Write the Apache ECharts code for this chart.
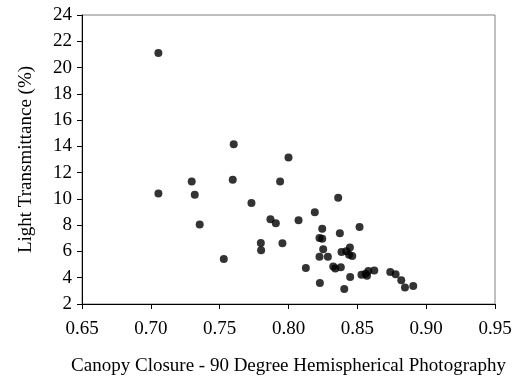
<!DOCTYPE html>
<html>
<head>
<meta charset="utf-8">
<script src="https://cdn.jsdelivr.net/npm/echarts@6/dist/echarts.min.js"></script>
<style>html,body{margin:0;padding:0;background:#fff;}#c{width:519px;height:381px;}</style>
</head>
<body>
<div id="c"></div>
<script>
var canopyClosure = [
  0.7055, 0.7055, 0.7297, 0.7319, 0.7355, 0.7530, 0.7602, 0.7595, 0.7731, 0.7799,
  0.7801, 0.7869, 0.7908, 0.7939, 0.7956, 0.8000, 0.8073, 0.8126, 0.8191, 0.8245,
  0.8225, 0.8245, 0.8252, 0.8225, 0.8286, 0.8361, 0.8373, 0.8516, 0.8385, 0.8420,
  0.8446, 0.8440, 0.8463, 0.8325, 0.8340, 0.8380, 0.8228, 0.8405, 0.8448, 0.8530,
  0.8560, 0.8570, 0.8580, 0.8623, 0.8739, 0.8778, 0.8819, 0.8846, 0.8906
];
var lightTransmittance = [
  21.10, 10.42, 11.33, 10.32, 8.05, 5.43, 14.16, 11.46, 9.68, 6.65,
  6.09, 8.46, 8.15, 11.33, 6.63, 13.16, 8.38, 4.75, 8.99, 7.72,
  7.02, 6.97, 6.17, 5.59, 5.59, 10.09, 7.39, 7.87, 5.95, 6.02,
  6.30, 5.75, 5.65, 4.85, 4.70, 4.80, 3.60, 3.14, 4.06, 4.22,
  4.30, 4.15, 4.52, 4.55, 4.44, 4.26, 3.81, 3.25, 3.37
];
var xTicks = {min: 0.65, max: 0.95, interval: 0.05};
var yTicks = {min: 2, max: 24, interval: 2};

var points = canopyClosure.map(function (x, i) { return [x, lightTransmittance[i]]; });
var font = '"Liberation Serif", "Times New Roman", serif';

var chart = echarts.init(document.getElementById('c'), null, {renderer: 'canvas'});
chart.setOption({
  animation: false,
  backgroundColor: '#ffffff',
  grid: {left: 82, right: 24, top: 15, bottom: 77, show: true, borderColor: '#808080', borderWidth: 1, backgroundColor: 'transparent'},
  xAxis: {
    type: 'value', min: xTicks.min, max: xTicks.max, interval: xTicks.interval,
    name: 'Canopy Closure - 90 Degree Hemispherical Photography',
    nameLocation: 'middle', nameGap: 53,
    nameTextStyle: {fontFamily: font, fontSize: 19, color: '#000'},
    axisLine: {show: true, onZero: false, lineStyle: {color: '#000', width: 1}},
    axisTick: {show: true, inside: false, length: 5, lineStyle: {color: '#000'}},
    axisLabel: {margin: 16, fontFamily: font, fontSize: 19, color: '#000',
      formatter: function (v) { return v.toFixed(2); }},
    splitLine: {show: false}
  },
  yAxis: {
    type: 'value', min: yTicks.min, max: yTicks.max, interval: yTicks.interval,
    name: 'Light Transmittance (%)',
    nameLocation: 'middle', nameGap: 46,
    nameTextStyle: {fontFamily: font, fontSize: 19, color: '#000'},
    axisLine: {show: true, onZero: false, lineStyle: {color: '#000', width: 1}},
    axisTick: {show: true, inside: false, length: 5, lineStyle: {color: '#000'}},
    axisLabel: {margin: 10, fontFamily: font, fontSize: 19, color: '#000'},
    splitLine: {show: false}
  },
  series: [{
    type: 'scatter',
    data: points,
    symbol: 'circle',
    symbolSize: 8,
    itemStyle: {color: '#000'}
  }]
});
</script>
</body>
</html>
